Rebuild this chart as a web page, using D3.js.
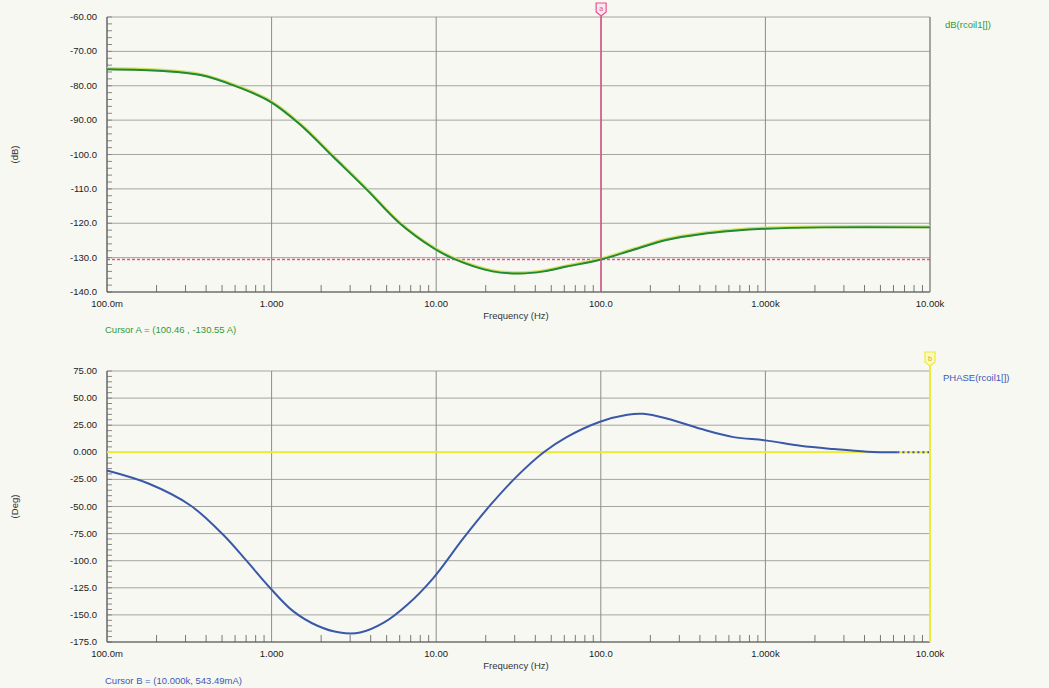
<!DOCTYPE html>
<html>
<head>
<meta charset="utf-8">
<script src="https://cdn.jsdelivr.net/npm/d3@7"></script>
<style>
  body { margin: 0; background: #f8f8f3; }
  svg { display: block; }
  text { font-family: "Liberation Sans", Arial, sans-serif; }
</style>
</head>
<body>
<script>
// magnitude trace dB(rcoil1[])
var magFreq = [0.1, 0.22, 0.37, 0.58, 0.98, 1.5, 2.36, 3.8, 6.0, 9.6, 12.6, 22, 32, 45, 62, 100.46, 158, 254, 403, 640, 1000, 2250, 10000];
var magDb   = [-75.2, -75.7, -76.9, -79.8, -84.6, -91.4, -100.6, -110.3, -120, -127.2, -130.2, -134, -134.6, -134, -132.6, -130.55, -127.7, -124.8, -123.2, -122.2, -121.6, -121.2, -121.2];

// phase trace PHASE(rcoil1[])
var phaseFreq = [0.1, 0.18, 0.32, 0.51, 0.71, 0.98, 1.35, 1.9, 2.6, 3.45, 4.8, 6.7, 9.6, 14.6, 21.3, 31, 45, 62, 98, 145, 181, 254, 403, 640, 1000, 1630, 2590, 4170, 6340];
var phaseDeg  = [-16.8, -29, -48.8, -76.3, -100.7, -125.2, -146.5, -160, -166.3, -166.3, -157.2, -140.4, -116, -79.4, -48.8, -22, 0, 14, 28, 34.6, 35.5, 31, 21.7, 14, 11, 6, 3, 0.6, 0];

var xTickVals   = [0.1, 1, 10, 100, 1000, 10000];
var xTickLabels = ["100.0m", "1.000", "10.00", "100.0", "1.000k", "10.00k"];
var magTicks    = [-60, -70, -80, -90, -100, -110, -120, -130, -140];
var magLabels   = ["-60.00", "-70.00", "-80.00", "-90.00", "-100.0", "-110.0", "-120.0", "-130.0", "-140.0"];
var phTicks     = [75, 50, 25, 0, -25, -50, -75, -100, -125, -150, -175];
var phLabels    = ["75.00", "50.00", "25.00", "0.000", "-25.00", "-50.00", "-75.00", "-100.0", "-125.0", "-150.0", "-175.0"];

var cursorA = { f: 100.46, v: -130.55 };
var cursorB = { f: 10000, v: 0 };

var w = 1049, h = 688;
var svg = d3.select("body").append("svg").attr("width", w).attr("height", h);

var xScale = d3.scaleLog().domain([0.1, 10000]).range([107, 930]);

var drawPanel = function(opt) {
    var yScale = d3.scaleLinear().domain(opt.domain).range(opt.range);
    var g = svg.append("g");
    var top = opt.range[1], bottom = opt.range[0];

    // grid
    g.selectAll(".hg").data(opt.ticks).enter().append("line")
        .attr("x1", xScale(0.1)).attr("x2", xScale(10000))
        .attr("y1", function(d) { return yScale(d); })
        .attr("y2", function(d) { return yScale(d); })
        .attr("stroke", "#a4a4a0").attr("stroke-width", 1);
    g.selectAll(".vg").data(xTickVals).enter().append("line")
        .attr("x1", function(d) { return xScale(d); })
        .attr("x2", function(d) { return xScale(d); })
        .attr("y1", top).attr("y2", bottom)
        .attr("stroke", "#8c8c88").attr("stroke-width", 1);

    // minor x ticks
    var minors = [];
    for (var dec = 0.1; dec < 10000; dec *= 10) {
        for (var m = 2; m <= 9; m++) minors.push(dec * m);
    }
    g.selectAll(".mx").data(minors).enter().append("line")
        .attr("x1", function(d) { return xScale(d); })
        .attr("x2", function(d) { return xScale(d); })
        .attr("y1", bottom).attr("y2", bottom - 7)
        .attr("stroke", "#777").attr("stroke-width", 1);

    // minor y ticks
    var step = (opt.ticks[0] - opt.ticks[1]) / 5;
    var ym = d3.range(opt.domain[0], opt.domain[1] + step / 2, step);
    g.selectAll(".my").data(ym).enter().append("line")
        .attr("x1", xScale(0.1)).attr("x2", xScale(0.1) + 5)
        .attr("y1", function(d) { return yScale(d); })
        .attr("y2", function(d) { return yScale(d); })
        .attr("stroke", "#888").attr("stroke-width", 1);

    // frame
    g.append("line").attr("x1", xScale(0.1)).attr("x2", xScale(0.1))
        .attr("y1", top).attr("y2", bottom).attr("stroke", "#555");
    g.append("line").attr("x1", xScale(0.1)).attr("x2", xScale(10000))
        .attr("y1", bottom).attr("y2", bottom).attr("stroke", "#555");
    g.append("line").attr("x1", xScale(10000)).attr("x2", xScale(10000))
        .attr("y1", top).attr("y2", bottom).attr("stroke", "#888");

    // y labels
    g.selectAll(".yl").data(opt.ticks).enter().append("text")
        .text(function(d, i) { return opt.labels[i]; })
        .attr("x", 97)
        .attr("y", function(d) { return yScale(d) + 3; })
        .attr("text-anchor", "end")
        .attr("font-size", "9.5px")
        .attr("fill", "#222");

    // x labels
    g.selectAll(".xl").data(xTickVals).enter().append("text")
        .text(function(d, i) { return xTickLabels[i]; })
        .attr("x", function(d) { return xScale(d); })
        .attr("y", bottom + 15)
        .attr("text-anchor", "middle")
        .attr("font-size", "9.5px")
        .attr("fill", "#222");

    g.append("text").text("Frequency (Hz)")
        .attr("x", 516).attr("y", bottom + 27)
        .attr("text-anchor", "middle")
        .attr("font-size", "9.5px").attr("fill", "#333");

    g.append("text").text(opt.unit)
        .attr("transform", "translate(18," + ((top + bottom) / 2) + ") rotate(-90)")
        .attr("text-anchor", "middle")
        .attr("font-size", "9.5px").attr("fill", "#333");

    return { g: g, y: yScale, top: top, bottom: bottom };
};

// ---- top panel: magnitude
var p1 = drawPanel({ domain: [-140, -60], range: [292, 17], ticks: magTicks, labels: magLabels, unit: "(dB)" });

p1.g.append("line")
    .attr("x1", xScale(0.1)).attr("x2", xScale(10000))
    .attr("y1", p1.y(cursorA.v)).attr("y2", p1.y(cursorA.v))
    .attr("stroke", "#e8508c").attr("stroke-width", 1.5)
    .attr("stroke-dasharray", "3,2");

var magLine = d3.line()
    .x(function(d) { return xScale(d[0]); })
    .y(function(d) { return p1.y(d[1]); })
    .curve(d3.curveCatmullRom.alpha(0.5));
var magData = d3.zip(magFreq, magDb);
p1.g.append("path").datum(magData).attr("d", magLine)
    .attr("fill", "none").attr("stroke", "#d4e060").attr("stroke-width", 3)
    .attr("transform", "translate(0,-0.7)");
p1.g.append("path").datum(magData).attr("d", magLine)
    .attr("fill", "none").attr("stroke", "#1f8a3a").attr("stroke-width", 2);

p1.g.append("line")
    .attr("x1", xScale(cursorA.f)).attr("x2", xScale(cursorA.f))
    .attr("y1", 14).attr("y2", p1.bottom)
    .attr("stroke", "#e8508c").attr("stroke-width", 1.5);
p1.g.append("path")
    .attr("d", "M" + (xScale(cursorA.f) - 5) + ",3 h10 v9 l-5,4 l-5,-4 z")
    .attr("fill", "#fbe8ef").attr("stroke", "#e8508c").attr("stroke-width", 1.2);
p1.g.append("text").text("a")
    .attr("x", xScale(cursorA.f)).attr("y", 11)
    .attr("text-anchor", "middle").attr("font-size", "7px").attr("fill", "#e8508c");

p1.g.append("text").text("dB(rcoil1[])")
    .attr("x", 945).attr("y", 28)
    .attr("font-size", "9.5px").attr("fill", "#2f9a3a");
p1.g.append("text").text("Cursor A = (100.46 , -130.55 A)")
    .attr("x", 105).attr("y", 333)
    .attr("font-size", "9.5px").attr("fill", "#2f9a3a");

// ---- bottom panel: phase
var p2 = drawPanel({ domain: [-175, 75], range: [642, 371], ticks: phTicks, labels: phLabels, unit: "(Deg)" });

p2.g.append("line")
    .attr("x1", xScale(0.1)).attr("x2", xScale(10000))
    .attr("y1", p2.y(cursorB.v)).attr("y2", p2.y(cursorB.v))
    .attr("stroke", "#eeea3a").attr("stroke-width", 2);

var phLine = d3.line()
    .x(function(d) { return xScale(d[0]); })
    .y(function(d) { return p2.y(d[1]); })
    .curve(d3.curveCatmullRom.alpha(0.5));
var phData = d3.zip(phaseFreq, phaseDeg);
p2.g.append("path").datum(phData).attr("d", phLine)
    .attr("fill", "none").attr("stroke", "#3a58a8").attr("stroke-width", 2);
var last = phData[phData.length - 1];
p2.g.append("path").datum([last, [10000, last[1]]]).attr("d", phLine)
    .attr("fill", "none").attr("stroke", "#3a58a8").attr("stroke-width", 2)
    .attr("stroke-dasharray", "2,3");

p2.g.append("line")
    .attr("x1", xScale(cursorB.f)).attr("x2", xScale(cursorB.f))
    .attr("y1", 364).attr("y2", p2.bottom)
    .attr("stroke", "#eeea3a").attr("stroke-width", 2);
p2.g.append("path")
    .attr("d", "M" + (xScale(cursorB.f) - 5) + ",352 h10 v10 l-5,4 l-5,-4 z")
    .attr("fill", "#fbf8c0").attr("stroke", "#eeea3a").attr("stroke-width", 1.2);
p2.g.append("text").text("b")
    .attr("x", xScale(cursorB.f)).attr("y", 361)
    .attr("text-anchor", "middle").attr("font-size", "7px").attr("fill", "#b8b420");

p2.g.append("text").text("PHASE(rcoil1[])")
    .attr("x", 943).attr("y", 381)
    .attr("font-size", "9.5px").attr("fill", "#3a58b8");
p2.g.append("text").text("Cursor B = (10.000k, 543.49mA)")
    .attr("x", 105).attr("y", 684)
    .attr("font-size", "9.5px").attr("fill", "#3a58b8");
</script>
</body>
</html>
